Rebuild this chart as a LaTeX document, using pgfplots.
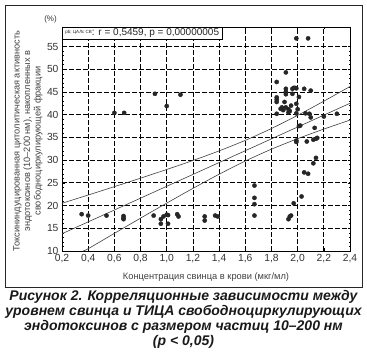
\documentclass[border=0pt]{standalone}
\usepackage{fontspec}
\setmainfont{Liberation Sans}
\usepackage{pgfplots}
\pgfplotsset{compat=1.18}
\pgfplotstableread{
x y
0.35 18.1
0.40 17.8
0.54 17.8
0.67 17.7
0.67 17.3
0.67 17.0
0.90 17.8
0.955 17.0
0.955 16.0
0.975 17.6
1.00 18.0
1.01 17.9
1.01 16.0
1.08 18.1
1.09 17.6
1.29 17.6
1.29 16.7
1.37 17.8
1.39 17.6
1.67 24.4
1.67 21.7
1.67 20.3
1.67 17.8
1.93 17.0
1.94 17.6
1.95 17.8
1.97 20.5
2.03 22.0
0.60 40.4
0.675 40.4
0.91 44.6
1.00 41.9
1.105 44.4
1.99 56.8
2.08 56.8
1.91 49.3
1.84 47.2
1.84 43.8
1.84 43.3
1.84 42.8
1.84 40.2
1.91 45.7
1.91 45.0
1.91 44.5
1.90 42.8
1.91 41.6
1.93 41.2
1.87 41.3
1.88 41.6
1.89 41.0
1.95 42.0
1.96 45.7
1.97 45.9
1.98 45.9
1.99 45.8
1.96 44.6
2.01 43.9
1.94 40.8
1.93 40.5
1.99 42.4
2.00 41.2
1.99 40.3
2.05 45.7
2.10 45.3
2.06 40.3
2.09 40.2
2.10 39.4
2.20 39.6
2.30 40.2
2.02 37.6
2.01 37.5
2.13 37.1
2.12 34.5
2.14 34.7
2.15 34.9
1.99 34.3
1.99 34.0
2.07 34.1
2.14 30.5
2.12 29.3
2.05 27.3
2.08 27.0
}\points
\begin{document}
\begin{tikzpicture}
\useasboundingbox (0,0) rectangle (367pt,353pt);
\draw[line width=0.8pt, black!85] (5pt,66pt) rectangle (362pt,348pt);
\begin{axis}[
  at={(62pt,102pt)}, anchor=south west,
  width=288pt, height=224pt, scale only axis,
  xmin=0.2, xmax=2.4, ymin=10, ymax=59.3,
  xtick={0.2,0.4,0.6,0.8,1.0,1.2,1.4,1.6,1.8,2.0,2.2,2.4},
  xticklabels={{0,2},{0,4},{0,6},{0,8},{1,0},{1,2},{1,4},{1,6},{1,8},{2,0},{2,2},{2,4}},
  ytick={10,15,20,25,30,35,40,45,50,55},
  yticklabels={10,15,20,25,30,35,40,45,50,55},
  minor y tick num=4,
  grid=major,
  major grid style={black, line width=0.7pt, dash pattern=on 5pt off 2pt},
  tick align=inside, major tick length=2.5pt, minor tick length=1.5pt,
  tick style={black, line width=0.5pt},
  axis line style={black, line width=0.8pt},
  tick label style={font=\fontsize{10.3}{12}\selectfont, text=black!80},
  clip=false,
]
\addplot[only marks, mark=*, mark size=2.1pt, black!85] table[x=x,y=y] {\points};
\addplot[no marks, line width=0.6pt, black!75] coordinates {(0.2,13.8)(2.4,42.51)};
\addplot[no marks, smooth, line width=0.6pt, black!75] coordinates {
(0.2,20.50)(0.4,22.32)(0.6,24.16)(0.8,26.03)(1.0,27.94)(1.2,29.92)(1.4,32.03)(1.6,34.35)(1.8,36.96)(2.0,39.86)(2.2,42.97)(2.4,46.21)};
\addplot[no marks, smooth, line width=0.6pt, black!75] coordinates {
(0.36,10.0)(0.4,10.50)(0.6,13.88)(0.8,17.23)(1.0,20.54)(1.2,23.78)(1.4,26.89)(1.6,29.80)(1.8,32.41)(2.0,34.72)(2.2,36.83)(2.4,38.81)};
\node[draw=black, line width=0.7pt, fill=white, anchor=north west, inner xsep=3pt, inner ysep=1.5pt, font=\fontsize{10}{11}\selectfont, text=black!85] at (rel axis cs:0,1) {\raisebox{2.5pt}{\fontsize{4.5}{4.5}\selectfont pb; ЦАЛс СВ}: r = 0,5459, p = 0,00000005};
\node[font=\fontsize{8}{9}\selectfont, text=black!80, anchor=south] at (rel axis cs:-0.04,1) {(\%)};
\end{axis}
\node[rotate=90, align=center, font=\fontsize{9.2}{10.5}\selectfont, text=black!75] at (28pt,212pt) {Токсининдуцированная цитолитическая активность\\эндотоксинов (10--200 нм), накопленных в\\свободноциркулирующей фракции};
\node[font=\fontsize{9.3}{10}\selectfont, text=black!75] at (206pt,76pt) {Концентрация свинца в крови (мкг/мл)};
\node[anchor=north, align=center, inner sep=0pt, font=\fontsize{14}{15}\selectfont\bfseries\itshape, text=black!90] at (183.5pt,63pt) {Рисунок 2. Корреляционные зависимости между\\уровнем свинца и ТИЦА свободноциркулирующих\\эндотоксинов с размером частиц 10--200 нм\\(р < 0,05)};
\end{tikzpicture}
\end{document}
